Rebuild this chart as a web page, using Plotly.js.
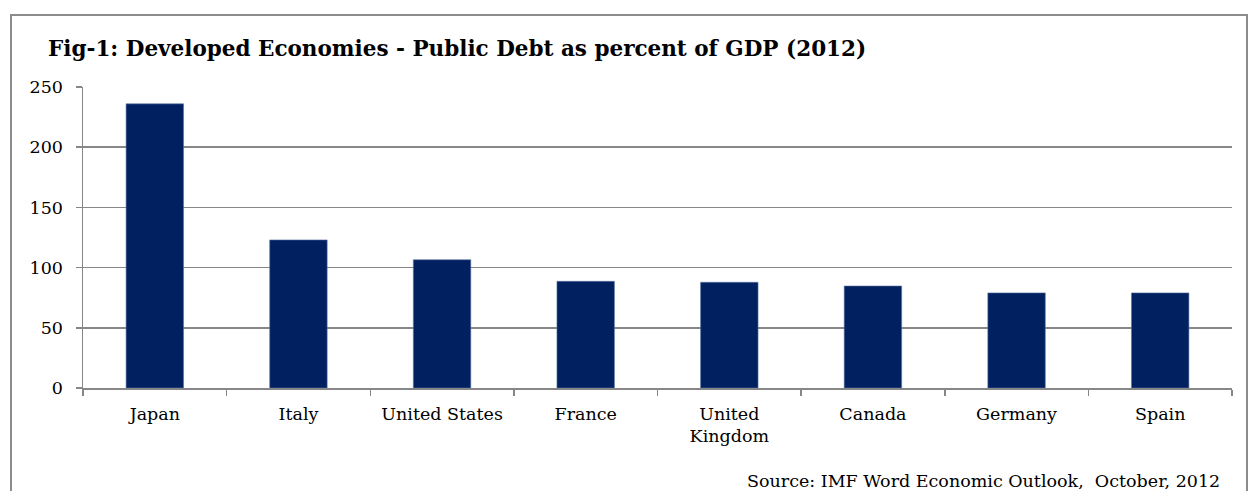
<!DOCTYPE html>
<html>
<head>
<meta charset="utf-8">
<script src="https://cdn.plot.ly/plotly-3.0.1.min.js"></script>
<style>html,body{margin:0;padding:0;background:#fff;}#chart{width:1248px;height:491px;}</style>
</head>
<body>
<div id="chart"></div>
<script>
const countries = ["Japan", "Italy", "United States", "France", "United<br>Kingdom", "Canada", "Germany", "Spain"];
const debtPctGDP = [236, 123, 106.5, 88.6, 87.8, 84.7, 79, 79];
const yTicks = [0, 50, 100, 150, 200, 250];
const titleText = "Fig-1: Developed Economies - Public Debt as percent of GDP (2012)";
const sourceText = "Source: IMF Word Economic Outlook,  October, 2012";

const FONT = "DejaVu Serif, serif";
const GRID = "#878787";

const trace = {
  type: "bar",
  x: countries,
  y: debtPctGDP,
  marker: {color: "#002060", line: {color: "#5a74a4", width: 0.6}},
  hoverinfo: "x+y"
};

const layout = {
  width: 1248, height: 491,
  margin: {l: 83, r: 16, t: 87, b: 103},
  paper_bgcolor: "#ffffff",
  plot_bgcolor: "#ffffff",
  showlegend: false,
  bargap: 0.6,
  title: {
    text: "<b>" + titleText + "</b>",
    font: {family: FONT, size: 21.5, color: "#000000"},
    xref: "container", yref: "container",
    x: 48/1248, xanchor: "left",
    y: 1 - 48/491, yanchor: "middle"
  },
  xaxis: {
    type: "category",
    showgrid: false,
    showline: true, linecolor: GRID, linewidth: 1.5,
    ticks: "outside", tickson: "boundaries", ticklen: 6, tickcolor: GRID, tickwidth: 1.5,
    tickfont: {family: FONT, size: 17.5, color: "#000000"},
    ticklabelstandoff: 9,
    fixedrange: true
  },
  yaxis: {
    range: [0, 250],
    tickvals: yTicks,
    showgrid: true, gridcolor: GRID, gridwidth: 1.5,
    zeroline: false,
    showline: true, linecolor: GRID, linewidth: 1.5,
    ticks: "outside", ticklen: 6, tickcolor: GRID, tickwidth: 1.5,
    tickfont: {family: FONT, size: 17.5, color: "#000000"},
    ticklabelstandoff: 9,
    fixedrange: true
  },
  shapes: [
    {type: "rect", xref: "paper", yref: "paper",
     x0: (11-83)/1149, x1: (1247-83)/1149,
     y0: (388-500)/301, y1: (388-15)/301,
     line: {color: "#8c8c8c", width: 2}, fillcolor: "rgba(0,0,0,0)", layer: "below"}
  ],
  annotations: [
    {text: sourceText, xref: "paper", yref: "paper",
     x: (1222-83)/1149, xanchor: "right",
     y: (388-481)/301, yanchor: "middle",
     showarrow: false,
     font: {family: FONT, size: 17.5, color: "#000000"}}
  ]
};

Plotly.newPlot("chart", [trace], layout, {displayModeBar: false, staticPlot: true});
</script>
</body>
</html>
